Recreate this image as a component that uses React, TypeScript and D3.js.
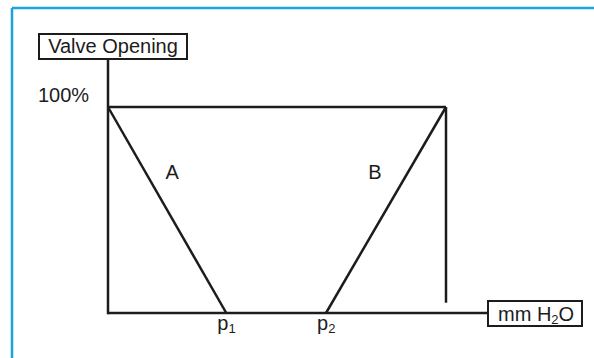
import React from "react";
import * as d3 from "d3";

// Pressure (arbitrary units along mm H2O axis) and valve opening (%)
const pressureDomain = [0, 10];
const openingDomain = [0, 100];
const axisEndPressure = 11.24;
const axisTopOpening = 123.5;

const seriesA = [
  { p: 0, v: 100 },
  { p: 3.5, v: 0 },
];
const seriesB = [
  { p: 6.45, v: 0 },
  { p: 10, v: 100 },
];
const fullOpenLine = [
  { p: 0, v: 100 },
  { p: 10, v: 100 },
];
const rightLimit = [
  { p: 10, v: 100 },
  { p: 10, v: 5 },
];
const pMarks = [
  { p: 3.5, name: "p", sub: "1" },
  { p: 6.45, name: "p", sub: "2" },
];
const seriesLabels = [
  { name: "A", p: 1.9, v: 65 },
  { name: "B", p: 7.9, v: 65 },
];
const yTickLabel = "100%";
const yAxisTitle = "Valve Opening";
const xAxisTitle = ["mm H", "2", "O"];

const W = 594;
const H = 358;
const FONT = "'Liberation Sans', Arial, sans-serif";
const INK = "#1c1c1c";

export default function App() {
  const x = d3.scaleLinear().domain(pressureDomain).range([108, 446]);
  const y = d3.scaleLinear().domain(openingDomain).range([313, 107]);
  const line = d3
    .line<{ p: number; v: number }>()
    .x((d) => x(d.p))
    .y((d) => y(d.v));

  const x0 = x(0);
  const y0 = y(0);
  const xEnd = x(axisEndPressure);
  const yTop = y(axisTopOpening);

  return (
    <svg
      width={W}
      height={H}
      style={{ position: "absolute", left: 0, top: 0, background: "#fff" }}
      fontFamily={FONT}
    >
      {/* blue frame (top and left edges) */}
      <line x1={12} y1={8} x2={W} y2={8} stroke="#1ba3dd" strokeWidth={2.5} />
      <line x1={12} y1={8} x2={12} y2={H} stroke="#1ba3dd" strokeWidth={2.5} />

      {/* axes */}
      <line x1={x0} y1={yTop} x2={x0} y2={y0} stroke={INK} strokeWidth={2.5} strokeLinecap="square" />
      <line x1={x0} y1={y0} x2={xEnd} y2={y0} stroke={INK} strokeWidth={2.5} />

      {/* plot lines */}
      <path d={line(fullOpenLine) || ""} stroke={INK} strokeWidth={2.5} fill="none" />
      <path d={line(rightLimit) || ""} stroke={INK} strokeWidth={2.5} fill="none" />
      <path d={line(seriesA) || ""} stroke={INK} strokeWidth={2.5} fill="none" />
      <path d={line(seriesB) || ""} stroke={INK} strokeWidth={2.5} fill="none" />

      {/* y axis title box */}
      <rect x={39} y={34} width={148} height={25} fill="#fff" stroke={INK} strokeWidth={2} />
      <text x={113} y={52.5} fontSize={20} textAnchor="middle" fill={INK}>
        {yAxisTitle}
      </text>

      {/* 100% label */}
      <text x={38} y={102} fontSize={20} fill={INK}>
        {yTickLabel}
      </text>

      {/* x axis title box */}
      <rect x={488} y={301} width={94} height={25} fill="#fff" stroke={INK} strokeWidth={2} />
      <text x={498} y={321} fontSize={20} fill={INK}>
        {xAxisTitle[0]}
        <tspan fontSize={13} dy={3}>
          {xAxisTitle[1]}
        </tspan>
        <tspan dy={-3}>{xAxisTitle[2]}</tspan>
      </text>

      {/* p1 / p2 labels */}
      {pMarks.map((m) => (
        <text key={m.sub} x={x(m.p) - 9} y={330} fontSize={20} fill={INK}>
          {m.name}
          <tspan fontSize={13} dy={3}>
            {m.sub}
          </tspan>
        </text>
      ))}

      {/* series labels */}
      {seriesLabels.map((s) => (
        <text key={s.name} x={x(s.p)} y={y(s.v)} fontSize={20} textAnchor="middle" fill={INK}>
          {s.name}
        </text>
      ))}
    </svg>
  );
}
